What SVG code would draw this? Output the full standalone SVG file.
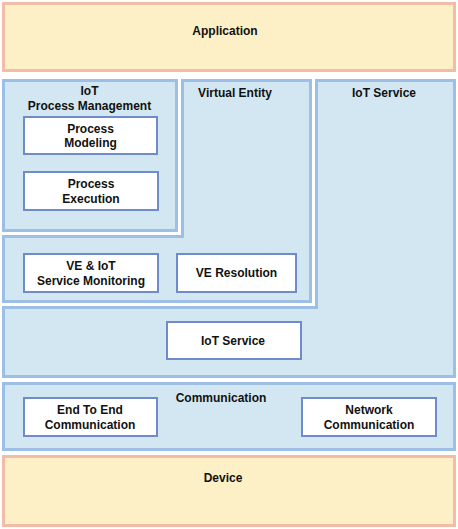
<svg xmlns="http://www.w3.org/2000/svg" width="458" height="529" viewBox="0 0 458 529">
<style>
.bg{fill:#ffffff}
.layer-y{fill:#fdefc6;stroke:#f3bca7;stroke-width:3}
.layer-b{fill:#d3e7f3;stroke:#9dbfe6;stroke-width:3}
.box{fill:#ffffff;stroke:#6f8bcc;stroke-width:2}
text{font-family:"Liberation Sans",Arial,sans-serif;font-size:12px;font-weight:bold;fill:#111111;text-anchor:middle}
</style>
<rect class="bg" x="0" y="0" width="458" height="529"/>
<g id="application">
<rect class="layer-y" x="3.5" y="3.5" width="451" height="67"/>
<text x="225" y="35">Application</text>
</g>
<g id="iot-service-layer">
<path class="layer-b" d="M316.5,80.5 H454.5 V376.5 H3.5 V307.5 H316.5 Z"/>
<text x="384" y="97">IoT Service</text>
</g>
<g id="virtual-entity">
<path class="layer-b" d="M182.5,80.5 H310.5 V301.5 H3.5 V236.5 H182.5 Z"/>
<text x="235" y="97">Virtual Entity</text>
</g>
<g id="process-management">
<rect class="layer-b" x="3.5" y="80.5" width="173" height="150"/>
<text x="89.5" y="95">IoT</text>
<text x="89.5" y="109.5">Process Management</text>
</g>
<g id="process-modeling">
<rect class="box" x="24" y="117" width="133" height="37"/>
<text x="90.5" y="133">Process</text>
<text x="90.5" y="147">Modeling</text>
</g>
<g id="process-execution">
<rect class="box" x="24" y="172" width="134" height="38"/>
<text x="91" y="188">Process</text>
<text x="91" y="203">Execution</text>
</g>
<g id="ve-iot-monitoring">
<rect class="box" x="24" y="254" width="134" height="38"/>
<text x="91" y="270">VE &amp; IoT</text>
<text x="91" y="285">Service Monitoring</text>
</g>
<g id="ve-resolution">
<rect class="box" x="177" y="254" width="119" height="38"/>
<text x="236.5" y="277">VE Resolution</text>
</g>
<g id="iot-service">
<rect class="box" x="167" y="322" width="134" height="37"/>
<text x="233" y="344.5">IoT Service</text>
</g>
<g id="communication">
<rect class="layer-b" x="3.5" y="383.5" width="451" height="66"/>
<text x="221" y="402">Communication</text>
</g>
<g id="end-to-end">
<rect class="box" x="24" y="398" width="133" height="38"/>
<text x="90" y="414">End To End</text>
<text x="90" y="429">Communication</text>
</g>
<g id="network-communication">
<rect class="box" x="302" y="398" width="134" height="38"/>
<text x="369" y="414">Network</text>
<text x="369" y="429">Communication</text>
</g>
<g id="device">
<rect class="layer-y" x="3.5" y="456.5" width="451" height="69"/>
<text x="223" y="482">Device</text>
</g>
<g id="connectors"></g>
</svg>
